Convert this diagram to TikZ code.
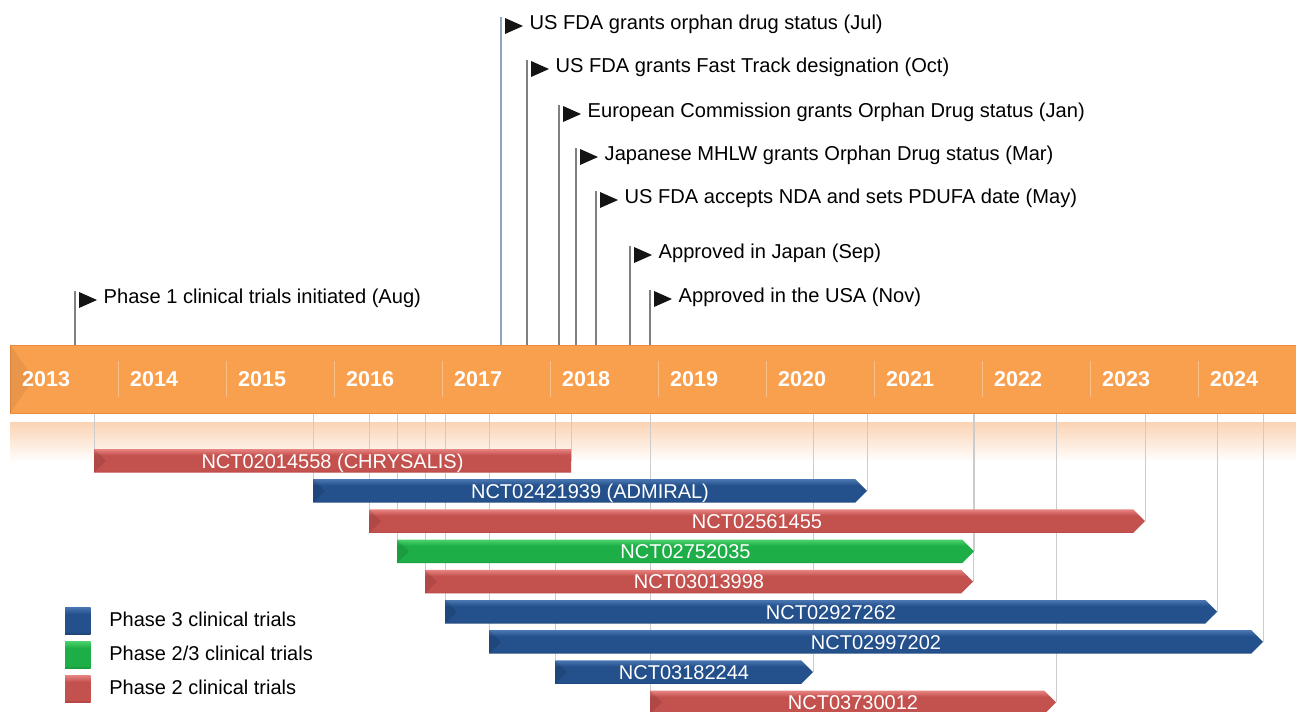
\documentclass[tikz,border=0pt]{standalone}
\usepackage{fontspec}
\setmainfont{Liberation Sans}
\usetikzlibrary{positioning,calc}
\definecolor{yearorange}{HTML}{F9A04F}
\definecolor{yearedge}{HTML}{EA8B3D}
\definecolor{yearsepc}{HTML}{FBC08A}
\definecolor{bandorange}{HTML}{FBD3B3}
\definecolor{guidegrey}{HTML}{CCCCCC}
\definecolor{tickgrey}{HTML}{808080}
\definecolor{tickblue}{HTML}{8EA4C2}
\definecolor{blueL}{HTML}{4A76B2}
\definecolor{blueM}{HTML}{24508B}
\definecolor{blueD}{HTML}{1D4474}
\definecolor{redL}{HTML}{E88481}
\definecolor{redM}{HTML}{C3514E}
\definecolor{redD}{HTML}{B24442}
\definecolor{greenL}{HTML}{4CD26C}
\definecolor{greenM}{HTML}{1EAE47}
\definecolor{greenD}{HTML}{179A3A}
\pgfdeclareverticalshading{bluebar}{100bp}{color(0bp)=(blueD); color(25bp)=(blueD); color(29bp)=(blueM); color(62bp)=(blueM); color(75bp)=(blueL); color(100bp)=(blueL)}
\pgfdeclareverticalshading{redbar}{100bp}{color(0bp)=(redD); color(25bp)=(redD); color(29bp)=(redM); color(62bp)=(redM); color(75bp)=(redL); color(100bp)=(redL)}
\pgfdeclareverticalshading{greenbar}{100bp}{color(0bp)=(greenD); color(25bp)=(greenD); color(29bp)=(greenM); color(62bp)=(greenM); color(75bp)=(greenL); color(100bp)=(greenL)}
\pgfdeclarelayer{back}
\pgfsetlayers{back,main}
\tikzset{
    yearbar/.style={draw=yearedge,fill=yearorange,line width=1pt,minimum width=1300pt,minimum height=68pt,inner sep=0pt,anchor=west},
    yearlabel/.style={anchor=west,inner sep=0pt,text=white,font=\bfseries\fontsize{21.5}{26}\selectfont},
    yearsep/.style={draw=yearsepc,line width=1pt},
    msline/.style={draw=tickgrey,line width=1.6pt},
    flag/.style={fill=black!92},
    event/.style={anchor=base west,inner sep=0pt,font=\fontsize{20.1}{24}\selectfont},
    guide/.style={draw=guidegrey,line width=1pt},
    bevel/.style={fill=black,fill opacity=0.1},
    barlabel/.style={anchor=base,inner sep=0pt,text=white,font=\fontsize{20}{24}\selectfont},
    legendbox/.style={minimum width=25.5pt,minimum height=27pt,inner sep=0pt,shade},
    legendtext/.style={inner sep=0pt,font=\fontsize{20}{24}\selectfont},
}
\newcommand{\addmilestone}[5][]{%
    \coordinate (#2) at (#3,#4);
    \draw[msline,#1] (#2) -- (#2 |- years.north);
    \fill[flag] (#3+4,#4+1) -- (#3+22,#4+9) -- (#3+4,#4+17) -- cycle;
    \node[event] (#2-t) at (#3+28.5,#4+12) {#5};
}
\newcommand{\addtrial}[7]{%
    \coordinate (#1-s) at (#3,#2);
    \coordinate (#1-e) at (#4,#2+11.75);
    \begin{pgfonlayer}{back}
        \draw[guide] (#1-s |- years.south) -- (#1-s);
        \draw[guide] (#1-e |- years.south) -- (#1-e);
    \end{pgfonlayer}
    \shade[shading=#5] (#1-s) -- (#4-#6,#2) -- (#1-e) -- (#4-#6,#2+23.5) -- (#3,#2+23.5) -- cycle;
    \fill[bevel] (#1-s) -- (#3+12,#2+11.75) -- (#3,#2+23.5) -- cycle;
    \node[barlabel] (#1) at ({(#3+#4)/2},#2+19) {#7};
}

\begin{document}
\begin{tikzpicture}[x=1pt,y=-1pt]
    \useasboundingbox (0,0) rectangle (1296,712);
    \begin{pgfonlayer}{back}
        \fill[top color=bandorange,bottom color=white] (10,422) rectangle (1296,462);
    \end{pgfonlayer}

    \node[yearbar] (years) at (10,379) {};
    \fill[bevel,fill opacity=0.06] (years.north west) -- ([xshift=24pt]years.west) -- (years.south west) -- cycle;
    \foreach \i in {1,...,11}
        \draw[yearsep] (10+108*\i,361) -- (10+108*\i,397);
    \foreach \yr [count=\i from 0] in {2013,...,2024}
        \node[yearlabel] (y\yr) at (22+108*\i,379) {\yr};

    \addmilestone{phase1}{75}{291}{Phase 1 clinical trials initiated (Aug)}
    \addmilestone[draw=tickblue,line width=1.3pt]{orphan}{501}{17}{US FDA grants orphan drug status (Jul)}
    \addmilestone{fasttrack}{527}{60}{US FDA grants Fast Track designation (Oct)}
    \addmilestone{ec}{559}{105}{European Commission grants Orphan Drug status (Jan)}
    \addmilestone{mhlw}{576}{148}{Japanese MHLW grants Orphan Drug status (Mar)}
    \addmilestone{nda}{596}{191}{US FDA accepts NDA and sets PDUFA date (May)}
    \addmilestone{japan}{630}{246}{Approved in Japan (Sep)}
    \addmilestone{usa}{650}{290}{Approved in the USA (Nov)}

    \addtrial{chrysalis}{449}{94}{571}{redbar}{0}{NCT02014558 (CHRYSALIS)}
    \addtrial{admiral}{479.2}{313}{867}{bluebar}{11.75}{NCT02421939 (ADMIRAL)}
    \addtrial{t2561455}{509.4}{369}{1145}{redbar}{11.75}{NCT02561455}
    \addtrial{t2752035}{539.6}{397}{974}{greenbar}{11.75}{NCT02752035}
    \addtrial{t3013998}{569.8}{425}{973}{redbar}{11.75}{NCT03013998}
    \addtrial{t2927262}{600}{445}{1217}{bluebar}{11.75}{NCT02927262}
    \addtrial{t2997202}{630.2}{489}{1263}{bluebar}{11.75}{NCT02997202}
    \addtrial{t3182244}{660.4}{555}{813}{bluebar}{11.75}{NCT03182244}
    \addtrial{t3730012}{690.6}{650}{1056}{redbar}{11.75}{NCT03730012}

    \node[legendbox,shading=bluebar] (leg3) at (77.75,620.5) {};
    \node[legendbox,shading=greenbar] (leg23) at (77.75,654.5) {};
    \node[legendbox,shading=redbar] (leg2) at (77.75,688.5) {};
    \node[legendtext,right=18.5pt of leg3,yshift=1pt] (leg3t) {Phase 3 clinical trials};
    \node[legendtext,right=18.5pt of leg23,yshift=1pt] (leg23t) {Phase 2/3 clinical trials};
    \node[legendtext,right=18.5pt of leg2,yshift=1pt] (leg2t) {Phase 2 clinical trials};
\end{tikzpicture}
\end{document}
